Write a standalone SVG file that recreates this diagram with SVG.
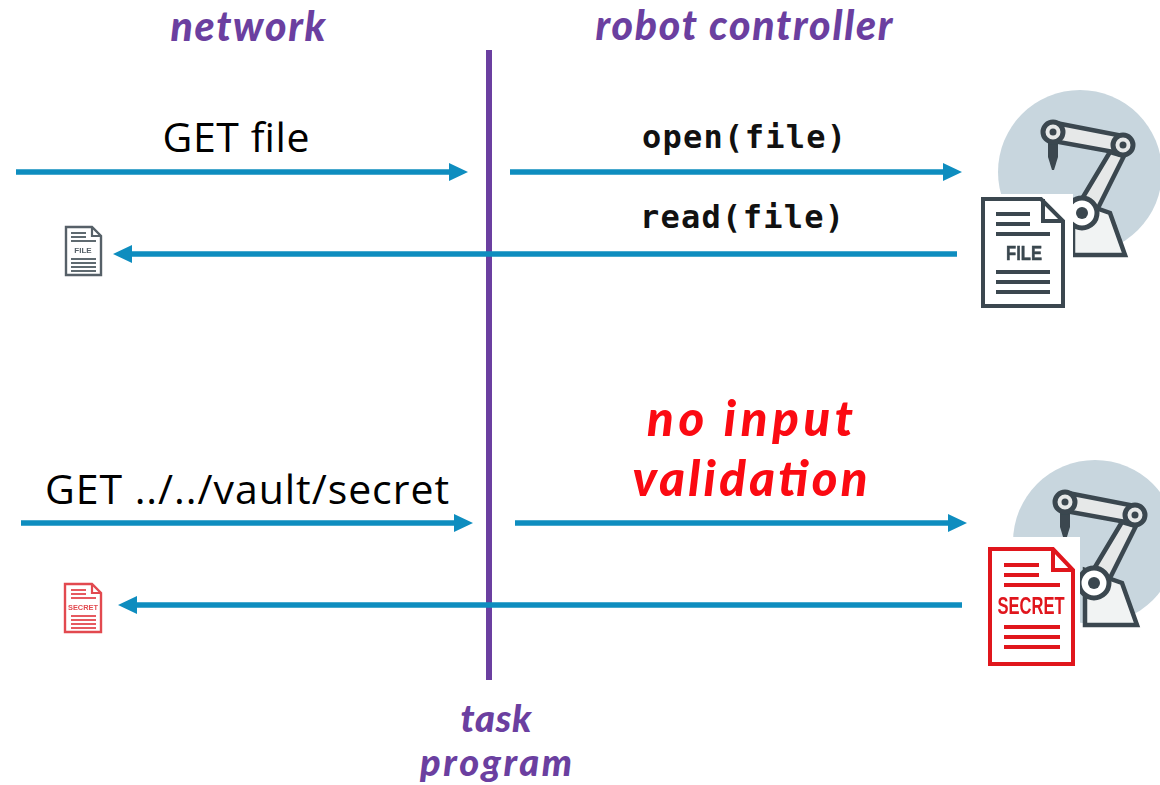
<svg xmlns="http://www.w3.org/2000/svg" width="1160" height="785" viewBox="0 0 1160 785">
<style>
.hand{font-family:"Lato","Open Sans",sans-serif;font-weight:900;font-style:italic;fill:#6b3fa0;font-size:41px;text-anchor:middle}
.red{fill:#fb0a12;font-size:49px}
.sans{font-family:"Open Sans","Noto Sans",sans-serif;font-size:41px;fill:#000;text-anchor:middle}
.mono{font-family:"DejaVu Sans Mono","Liberation Mono",monospace;font-weight:700;font-size:32px;fill:#111;text-anchor:middle}
.ar{stroke:#0e8dbf;stroke-width:5.5;fill:none}
.ah{fill:#0e8dbf}
</style>
<defs>
<filter id="soft" x="-5%" y="-5%" width="110%" height="110%"><feGaussianBlur stdDeviation="0.55"/></filter>
<filter id="softer" x="-10%" y="-10%" width="120%" height="120%"><feGaussianBlur stdDeviation="0.7"/></filter>
<symbol id="robot" overflow="visible">
<path d="M1073 255V200L1110 213L1125 255Z" fill="#f1f3f3" stroke="#3a474f" stroke-width="4.5"/>
<path d="M1056 123L1123 136L1119 153L1053 141Z" fill="#e6e8e8" stroke="#3a474f" stroke-width="4.5"/>
<path d="M1110 152L1124 156L1097 210L1080 202Z" fill="#e6e8e8" stroke="#3a474f" stroke-width="4.5"/>
<path d="M1048 143H1058V157L1054 170H1052L1048 157Z" fill="#3a474f"/>
<circle cx="1053" cy="132" r="10" fill="#e6e8e8" stroke="#3a474f" stroke-width="5"/>
<circle cx="1053" cy="132" r="3.5" fill="#3a474f"/>
<circle cx="1123" cy="145" r="10" fill="#e6e8e8" stroke="#3a474f" stroke-width="5"/>
<circle cx="1123" cy="145" r="3.5" fill="#3a474f"/>
<circle cx="1082" cy="213" r="15" fill="#fff" stroke="#3a474f" stroke-width="5"/>
<circle cx="1082" cy="213" r="6" fill="#3a474f"/>
</symbol>
</defs>
<rect width="1160" height="785" fill="#fff"/>

<g id="lifeline"><line x1="489" y1="50" x2="489" y2="680" stroke="#6b3fa0" stroke-width="6"/></g>

<g id="connectors">
<path class="ar" d="M16 172H452M510 172H946M957 254H129M21 523H457M515 523H951M962 605H134"/>
<path class="ah" d="M468 172L449 163V181ZM962 172L943 163V181ZM113 254L132 245V263ZM473 523L454 514V532ZM967 523L948 514V532ZM118 605L137 596V614Z"/>
</g>

<g id="label-network"><text class="hand" x="248" y="41" textLength="155">network</text></g>
<g id="label-controller"><text class="hand" x="744" y="40" textLength="297">robot controller</text></g>
<g id="label-task"><text class="hand" x="496" y="732" style="font-size:38px" textLength="71">task</text><text class="hand" x="496" y="776" style="font-size:38px" textLength="152">program</text></g>
<g id="label-get-file"><text class="sans" x="236" y="152" textLength="147">GET file</text></g>
<g id="label-open"><text class="mono" x="744" y="148" textLength="204">open(file)</text></g>
<g id="label-read"><text class="mono" x="742" y="228" textLength="204">read(file)</text></g>
<g id="label-get-secret"><text class="sans" x="247" y="504" textLength="404">GET ../../vault/secret</text></g>
<g id="label-novalid"><text class="hand red" x="750" y="436" textLength="206">no input</text><text class="hand red" x="750" y="496" textLength="235">validation</text></g>

<g id="robot-top" filter="url(#soft)"><circle cx="1080" cy="172" r="82" fill="#c8d6de"/><use href="#robot"/></g>
<g id="file-doc" filter="url(#soft)">
<rect x="981" y="194" width="92" height="64" fill="#fff"/>
<path d="M983 199H1041L1063 221V306H983Z" fill="#fff" stroke="#3a474f" stroke-width="4"/>
<path d="M1043 199V221H1063" fill="none" stroke="#3a474f" stroke-width="4"/>
<path d="M996 214H1030M996 224H1030M996 234H1050M996 272H1050M996 282H1050M996 292H1050" stroke="#3a474f" stroke-width="3.8"/>
<text x="1024" y="260" font-family="Liberation Sans,sans-serif" font-weight="700" font-size="21" fill="#3a474f" stroke="#3a474f" stroke-width="0.5" text-anchor="middle" textLength="36" lengthAdjust="spacingAndGlyphs">FILE</text>
</g>

<g id="robot-bottom" filter="url(#soft)"><circle cx="1095" cy="542" r="82" fill="#c8d6de"/><use href="#robot" x="12" y="370"/></g>
<g id="secret-doc" filter="url(#soft)">
<rect x="988" y="537" width="92" height="90" fill="#fff"/>
<path d="M990 549H1053L1073 570V664H990Z" fill="#fff" stroke="#e0161f" stroke-width="4"/>
<path d="M1053 549V570H1073" fill="none" stroke="#e0161f" stroke-width="4"/>
<path d="M1004 565H1039M1004 575H1039M1004 585H1060M1004 627H1060M1004 637H1060M1004 647H1060" stroke="#e0161f" stroke-width="3.8"/>
<text x="1031" y="614" font-family="Liberation Sans,sans-serif" font-weight="700" font-size="24" fill="#e0161f" text-anchor="middle" textLength="67" lengthAdjust="spacingAndGlyphs">SECRET</text>
</g>

<g id="file-small" filter="url(#softer)">
<path d="M66 227H92L101 236V275H66Z" fill="#fff" stroke="#566167" stroke-width="2.4"/>
<path d="M92 227V236H101" fill="none" stroke="#566167" stroke-width="2.2"/>
<path d="M71 233H86M71 237H86M71 241H96M71 259H96M71 263H96M71 267H96M71 271H96" stroke="#5f6a70" stroke-width="2"/>
<text x="83" y="253" font-family="Liberation Sans,sans-serif" font-weight="700" font-size="8" fill="#566167" text-anchor="middle">FILE</text>
</g>
<g id="secret-small" filter="url(#softer)">
<path d="M65 584H92L101 593V632H65Z" fill="#fff" stroke="#e24a50" stroke-width="2.4"/>
<path d="M92 584V593H101" fill="none" stroke="#e24a50" stroke-width="2.2"/>
<path d="M71 590H86M71 594H86M71 598H96M71 616H96M71 620H96M71 624H96M71 628H96" stroke="#e65a60" stroke-width="2"/>
<text x="83" y="610" font-family="Liberation Sans,sans-serif" font-weight="700" font-size="8" fill="#e24a50" text-anchor="middle" textLength="30" lengthAdjust="spacingAndGlyphs">SECRET</text>
</g>
</svg>
